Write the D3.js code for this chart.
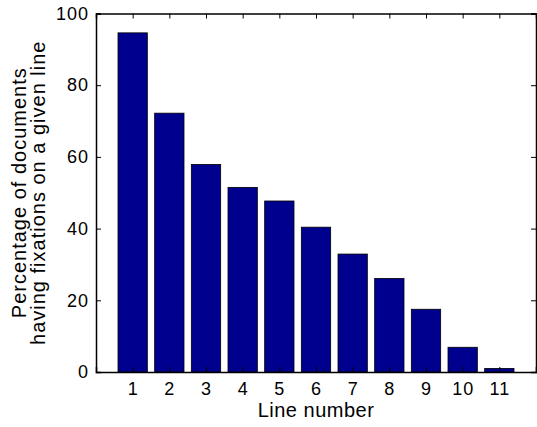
<!DOCTYPE html>
<html>
<head>
<meta charset="utf-8">
<script src="https://cdn.jsdelivr.net/npm/d3@7"></script>
<style>
  body { margin: 0; background: #fff; }
  text { font-family: "Liberation Sans", Arial, sans-serif; fill: #000; }
</style>
</head>
<body>
<svg id="chart"></svg>
<script>
const lines = [1, 2, 3, 4, 5, 6, 7, 8, 9, 10, 11];
const percents = [94.6, 72.2, 57.9, 51.5, 47.7, 40.4, 32.9, 26.1, 17.5, 6.9, 1.0];
const yTicks = [0, 20, 40, 60, 80, 100];
const xLabel = "Line number";
const yLabel = ["Percentage of documents", "having fixations on a given line"];

const width = 537;
const height = 427;
const margin = {top: 13.5, right: 1, bottom: 55, left: 96};

const svg = d3.select("#chart")
    .attr("width", width)
    .attr("height", height);

const x = d3.scaleLinear()
    .domain([0, 12])
    .range([margin.left, width - margin.right]);

const y = d3.scaleLinear()
    .domain([0, 100])
    .range([height - margin.bottom, margin.top]);

const barW = x(0.8) - x(0);

// bars
svg.append("g")
    .selectAll("rect")
    .data(lines)
    .join("rect")
    .attr("x", (d, i) => x(d) - barW / 2)
    .attr("y", (d, i) => y(percents[i]))
    .attr("width", barW)
    .attr("height", (d, i) => y(0) - y(percents[i]))
    .attr("fill", "#00008f")
    .attr("stroke", "#000")
    .attr("stroke-width", 0.8);

// axes, ticks pointing inward like matlab
const tickLen = 5;

const xAxis = svg.append("g")
    .attr("transform", `translate(0,${y(0)})`)
    .call(d3.axisBottom(x).tickValues(lines).tickSize(-tickLen).tickPadding(10));
const xTop = svg.append("g")
    .attr("transform", `translate(0,${y(100)})`)
    .call(d3.axisTop(x).tickValues(lines).tickSize(-tickLen).tickFormat(""));
const yAxis = svg.append("g")
    .attr("transform", `translate(${x(0)},0)`)
    .call(d3.axisLeft(y).tickValues(yTicks).tickSize(-tickLen).tickPadding(7));
const yRight = svg.append("g")
    .attr("transform", `translate(${x(12)},0)`)
    .call(d3.axisRight(y).tickValues(yTicks).tickSize(-tickLen).tickFormat(""));

[xAxis, xTop, yAxis, yRight].forEach(g => {
    g.select(".domain").attr("stroke", "#000").attr("stroke-width", 1.5);
    g.selectAll(".tick line").attr("stroke", "#000").attr("stroke-width", 1);
    g.selectAll(".tick text")
        .style("font-size", "18px")
        .style("letter-spacing", "1px")
        .attr("font-family", null);
});

// axis labels
svg.append("text")
    .attr("x", (x(0) + x(12)) / 2)
    .attr("y", 417)
    .attr("text-anchor", "middle")
    .style("font-size", "20px")
    .style("letter-spacing", "0.5px")
    .text(xLabel);

const yl = svg.append("text")
    .attr("transform", `translate(0,${(y(0) + y(100)) / 2}) rotate(-90)`)
    .attr("text-anchor", "middle")
    .style("font-size", "20px")
    .style("letter-spacing", "1px");
yl.selectAll("tspan")
    .data(yLabel)
    .join("tspan")
    .attr("x", 0)
    .attr("y", (d, i) => 26 + i * 19)
    .text(d => d);
</script>
</body>
</html>
